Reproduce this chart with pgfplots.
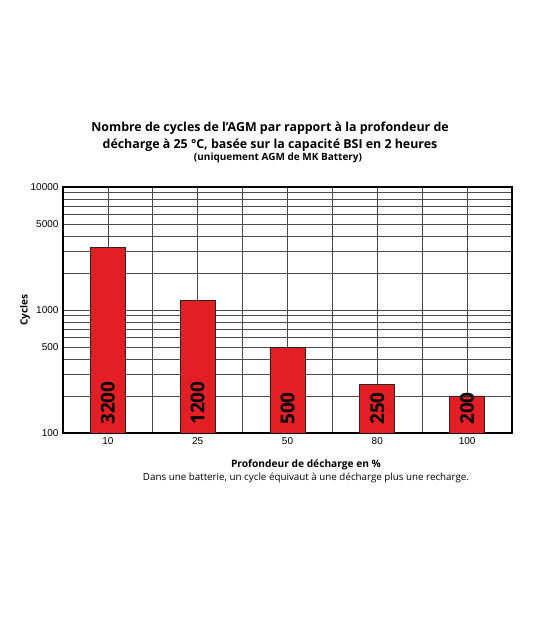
\documentclass[border=0pt]{standalone}
\usepackage{fontspec}
\setmainfont{Open Sans}
\newfontfamily\tickfont{Liberation Sans}
\usepackage{pgfplots}
\pgfplotsset{compat=1.18}
\usepackage{pgfplotstable}
\definecolor{barred}{RGB}{228,30,37}

% depth of discharge at positions 1,3,5,7,9 -> cycles
\pgfplotstableread{
x y
1 3200
3 1200
5 500
7 250
9 200
}\cycles

\begin{document}
\begin{tikzpicture}
\path[use as bounding box] (0pt,0pt) rectangle (540pt,617pt);
\begin{axis}[
    at={(63pt,184pt)}, anchor=south west,
    scale only axis, width=449pt, height=246pt,
    ymode=log, ymin=100, ymax=10000,
    xmin=0, xmax=10,
    xtick={1,3,5,7,9}, xticklabels={10,25,50,80,100},
    ytick={100,500,1000,5000,10000},
    yticklabels={100,500,1000,5000,10000},
    minor xtick={0,...,10},
    minor ytick={200,300,400,600,700,800,900,2000,3000,4000,6000,7000,8000,9000},
    grid=both,
    major grid style={black!70, line width=0.7pt},
    minor grid style={black!70, line width=0.7pt},
    major tick length=0pt, minor tick length=0pt,
    axis line style={line width=2pt},
    tick label style={font=\tickfont\fontsize{10}{12}\selectfont},
    xticklabel style={yshift=-1pt},
    yticklabel style={xshift=-1pt},
]
    \addplot[ybar, bar shift=0, bar width=0.78, fill=barred, draw=black!85, line width=0.9pt]
        table[x=x, y=y] {\cycles};
    \addplot[draw=none, mark=none, nodes near coords, point meta=explicit symbolic,
        nodes near coords style={rotate=90, anchor=west, inner sep=0pt, xshift=8pt,
            font=\fontsize{19}{19}\selectfont\bfseries, text=black}]
        table[x=x, y expr=100, meta=y] {\cycles};
\end{axis}
\node[font=\fontsize{12.4}{15}\selectfont\bfseries] at (270pt,489pt)
    {Nombre de cycles de l’AGM par rapport à la profondeur de};
\node[font=\fontsize{12.4}{15}\selectfont\bfseries] at (270pt,472pt)
    {décharge à 25 °C, basée sur la capacité BSI en 2 heures};
\node[font=\fontsize{10}{12}\selectfont\bfseries] at (278pt,459pt)
    {(uniquement AGM de MK Battery)};
\node[font=\fontsize{10}{12}\selectfont\bfseries, rotate=90] at (25pt,307pt) {Cycles};
\node[font=\fontsize{10.2}{12}\selectfont\bfseries] at (306pt,152pt) {Profondeur de décharge en \%};
\node[font=\fontsize{9.8}{12}\selectfont] at (306pt,139pt)
    {Dans une batterie, un cycle équivaut à une décharge plus une recharge.};
\end{tikzpicture}
\end{document}
